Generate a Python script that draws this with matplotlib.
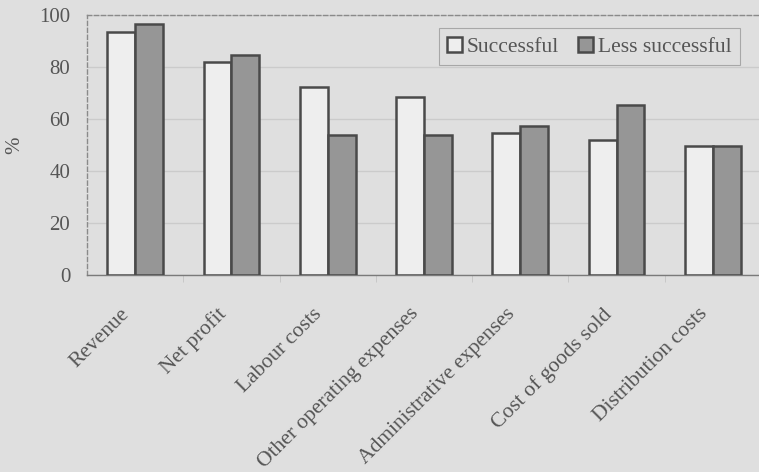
import numpy as np
import matplotlib
matplotlib.use("Agg")
import matplotlib.pyplot as plt
import matplotlib.transforms as mtransforms
from matplotlib.patches import Patch

categories = ["Revenue", "Net profit", "Labour costs", "Other operating expenses",
              "Administrative expenses", "Cost of goods sold", "Distribution costs"]
successful = [93.5, 82, 72.5, 68.5, 54.5, 52, 49.5]
less_successful = [96.5, 84.5, 54, 54, 57.5, 65.5, 49.5]
yticks = [0, 20, 40, 60, 80, 100]

bg = "#dfdfdf"
txt = "#555555"
edge = "#4a4a4a"

plt.rcParams["font.family"] = ["Liberation Serif", "DejaVu Serif"]

fig = plt.figure(figsize=(7.59, 4.72), dpi=100, facecolor=bg)
ax = fig.add_axes([87 / 759, 197 / 472, 674 / 759, 260 / 472])
ax.set_facecolor(bg)

x = np.arange(len(categories))
w = 0.29
ax.bar(x - w / 2, successful, w, color="#eeeeee", edgecolor=edge, linewidth=1.8, zorder=3)
ax.bar(x + w / 2, less_successful, w, color="#969696", edgecolor=edge, linewidth=1.8, zorder=3)

ax.set_xlim(-0.5, len(categories) - 0.5)
ax.set_ylim(0, 100)
ax.set_yticks(yticks)
ax.tick_params(axis="y", length=0, pad=12, labelsize=15, labelcolor=txt)
ax.yaxis.grid(True, color="#cbcbcb", linewidth=1, zorder=0)

# category labels, rotated
ax.set_xticks(x)
ax.set_xticklabels(categories, rotation=45, ha="right", va="top",
                   rotation_mode="anchor", fontsize=15.5, color=txt)
ax.tick_params(axis="x", length=0, pad=14)
shift = mtransforms.ScaledTranslation(-15 / 100, -10 / 100, fig.dpi_scale_trans)
for lab in ax.get_xticklabels():
    lab.set_transform(lab.get_transform() + shift)
ax.set_xticks(np.arange(0.5, len(categories) - 0.5), minor=True)
ax.tick_params(axis="x", which="minor", length=5, color="#c4c4c4")

for s in ax.spines.values():
    s.set_linestyle((0, (3, 2)))
    s.set_color("#8a8a8a")
    s.set_linewidth(1.0)
ax.spines["bottom"].set_linestyle("-")
ax.spines["bottom"].set_color("#7a7a7a")

fig.text(15 / 759, 1 - 145 / 472, "%", rotation=90, fontsize=15, color=txt,
         ha="center", va="center")

handles = [Patch(facecolor="#eeeeee", edgecolor=edge, linewidth=1.8),
           Patch(facecolor="#969696", edgecolor=edge, linewidth=1.8)]
leg = ax.legend(handles, ["Successful", "Less successful"], ncol=2,
                loc="upper right", bbox_to_anchor=(740 / 759, 1 - 28 / 472),
                bbox_transform=fig.transFigure, borderaxespad=0, fontsize=15.5,
                frameon=True, fancybox=False, handlelength=0.7, handleheight=0.7,
                handletextpad=0.2, columnspacing=0.9, borderpad=0.4,
                labelcolor=txt)
leg.get_frame().set_facecolor(bg)
leg.get_frame().set_edgecolor("#9a9a9a")
leg.get_frame().set_linewidth(0.8)

fig.savefig("out.png", dpi=100, facecolor=bg)
